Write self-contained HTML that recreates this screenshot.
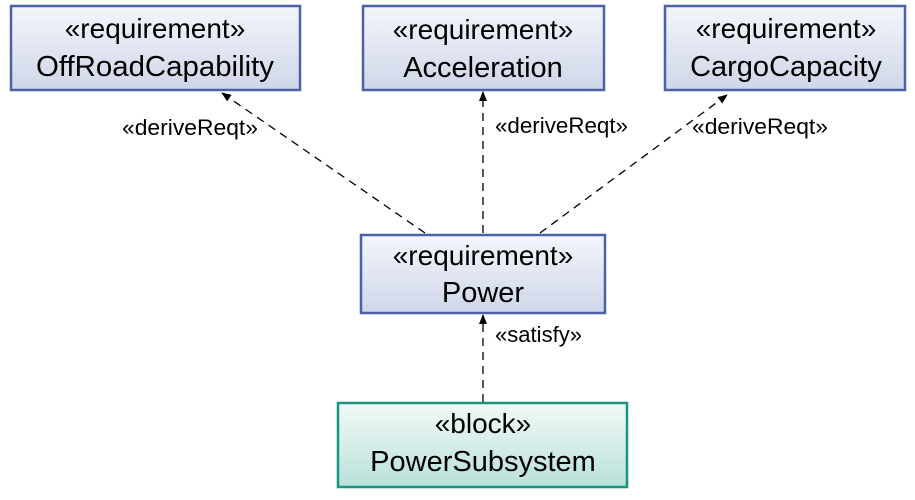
<!DOCTYPE html>
<html><head><meta charset="utf-8"><style>body{margin:0;background:#fff}</style></head><body>
<svg width="915" height="495" xmlns="http://www.w3.org/2000/svg" font-family="Liberation Sans, sans-serif">
<defs>
<linearGradient id="gb" x1="0" y1="0" x2="0" y2="1"><stop offset="0" stop-color="#f4f6fb"/><stop offset="1" stop-color="#cfd6e8"/></linearGradient>
<linearGradient id="gg" x1="0" y1="0" x2="0" y2="1"><stop offset="0" stop-color="#f3faf8"/><stop offset="1" stop-color="#b8e0d9"/></linearGradient>
<marker id="a" markerWidth="10" markerHeight="10" refX="9" refY="4" orient="auto" markerUnits="userSpaceOnUse"><path d="M0,0 L10,4 L0,8 z" fill="#000"/></marker>
</defs>
<g stroke="#4a63a8" stroke-width="2.5" fill="url(#gb)">
<rect x="11" y="6" width="289" height="84"/>
<rect x="363" y="6" width="241" height="84"/>
<rect x="665" y="6" width="240" height="84"/>
<rect x="361" y="235" width="244" height="78"/>
</g>
<rect x="338" y="403" width="289" height="84" fill="url(#gg)" stroke="#1a9580" stroke-width="2.5"/>
<g stroke="#000" stroke-width="1.3" stroke-dasharray="8,6" fill="none">
<line x1="425" y1="233" x2="222" y2="93" marker-end="url(#a)"/>
<line x1="483" y1="233" x2="483" y2="92" marker-end="url(#a)"/>
<line x1="540" y1="233" x2="727" y2="95" marker-end="url(#a)"/>
<line x1="483" y1="402" x2="483" y2="315" marker-end="url(#a)"/>
</g>
<g text-anchor="middle" fill="#000">
<text x="155" y="38" font-size="28">«requirement»</text>
<text x="155" y="76" font-size="29" textLength="238" lengthAdjust="spacingAndGlyphs">OffRoadCapability</text>
<text x="483" y="39" font-size="28">«requirement»</text>
<text x="483" y="77" font-size="29">Acceleration</text>
<text x="786" y="38" font-size="28">«requirement»</text>
<text x="786" y="76" font-size="29">CargoCapacity</text>
<text x="483" y="265" font-size="28">«requirement»</text>
<text x="483" y="302" font-size="29">Power</text>
<text x="483" y="433" font-size="28">«block»</text>
<text x="483" y="471" font-size="29">PowerSubsystem</text>
</g>
<g font-size="22" fill="#000">
<text x="122" y="135" textLength="136" lengthAdjust="spacingAndGlyphs">«deriveReqt»</text>
<text x="495" y="133" textLength="133" lengthAdjust="spacingAndGlyphs">«deriveReqt»</text>
<text x="692" y="134" textLength="136" lengthAdjust="spacingAndGlyphs">«deriveReqt»</text>
<text x="495" y="342" textLength="87" lengthAdjust="spacingAndGlyphs">«satisfy»</text>
</g>
</svg>
</body></html>
